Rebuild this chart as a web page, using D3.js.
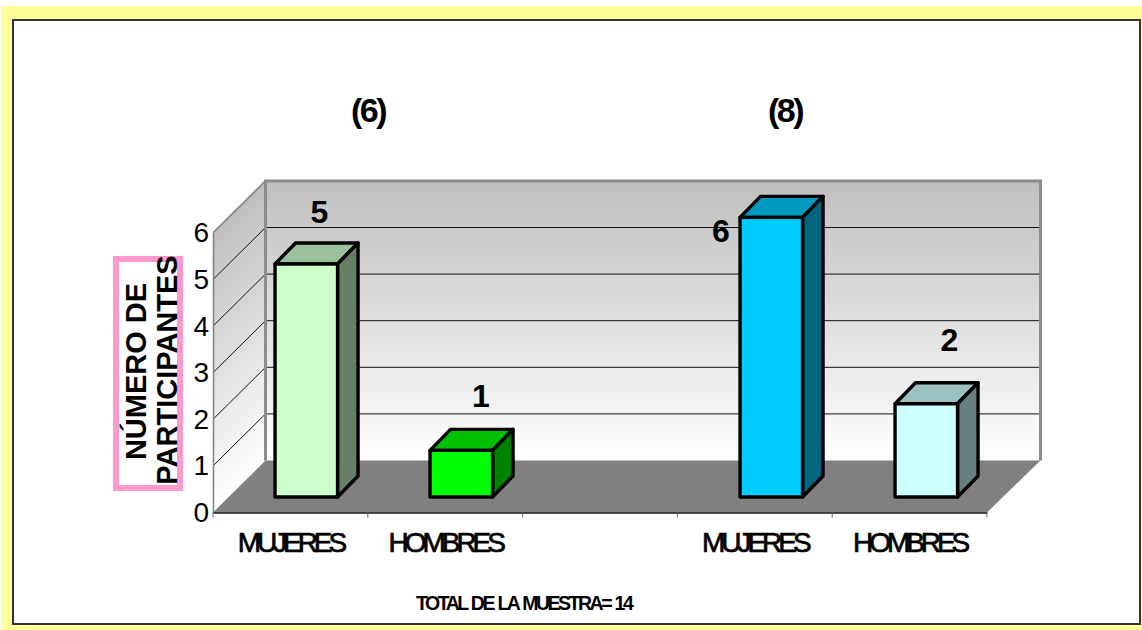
<!DOCTYPE html>
<html lang="es">
<head>
<meta charset="utf-8">
<title>Número de participantes</title>
<script src="https://cdn.jsdelivr.net/npm/d3@7/dist/d3.min.js"></script>
<style>
  html, body { margin: 0; padding: 0; background: #fff; }
  svg { display: block; }
  text { font-family: "Liberation Sans", Arial, sans-serif; fill: #000; }
</style>
</head>
<body>
<svg id="chart" width="1142" height="630"></svg>
<script>
// Chart values
const slots = ["a", "b", "gap", "c", "d"];
const categories = ["MUJERES", "HOMBRES", "", "MUJERES", "HOMBRES"];
const values = [5, 1, null, 6, 2];
const frontColors = ["#ccffcc", "#00ff00", null, "#00ccff", "#ccffff"];
const topColors = ["#9cc09c", "#00c000", null, "#0099c0", "#9cc0c0"];
const sideColors = ["#668066", "#008000", null, "#006680", "#668080"];
const valueTicks = [0, 1, 2, 3, 4, 5, 6];
const groupLabels = ["(6)", "(8)"];
const yTitleLines = ["NÚMERO DE", "PARTICIPANTES"];
const footerText = "TOTAL DE LA MUESTRA= 14";

const svg = d3.select("#chart");
const fontStack = '"Liberation Sans", Arial, sans-serif';

// Page frame
svg.append("rect").attr("x", 1).attr("y", 6).attr("width", 1141).attr("height", 624).attr("fill", "#ffff99");
svg.append("rect").attr("x", 13).attr("y", 20).attr("width", 1127).attr("height", 604)
  .attr("fill", "#fff").attr("stroke", "#333").attr("stroke-width", 2);

// Projection of the 3D box
const left = 213, right = 987, y0 = 512.5, unit = 46.6;
const depthX = 52.5, depthY = 52;
const barDepthX = 20.5, barDepthY = 21;
const inset = (depthY - barDepthY) / 2;

const y = d3.scaleLinear().domain([0, 6]).range([y0, y0 - 6 * unit]);
const slotScale = d3.scaleBand().domain(slots).range([left, right]);
const barScale = d3.scaleBand().domain(slots).range([left + 0.3, right + 1.3]);
const yBack = v => y(v) - depthY;

const defs = svg.append("defs");
const wallStops = [[0, "#bfbfbf"], [1, "#ffffff"]];
const backGrad = defs.append("linearGradient").attr("id", "wallBack")
  .attr("gradientUnits", "userSpaceOnUse")
  .attr("x1", 0).attr("x2", 0).attr("y1", yBack(6)).attr("y2", yBack(0));
const sideGrad = defs.append("linearGradient").attr("id", "wallSide")
  .attr("gradientUnits", "userSpaceOnUse")
  .attr("x1", left).attr("x2", left).attr("y1", y(6)).attr("y2", y(0))
  .attr("gradientTransform", `matrix(1,${-depthY / depthX},0,1,0,${left * depthY / depthX})`);
[backGrad, sideGrad].forEach(g => g.selectAll("stop").data(wallStops).join("stop")
  .attr("offset", d => d[0]).attr("stop-color", d => d[1]));

const poly = pts => pts.map(p => p.join(",")).join(" ");

// Walls
svg.append("polygon").attr("fill", "url(#wallBack)")
  .attr("points", poly([[left + depthX, yBack(6)], [right + depthX + 1, yBack(6)], [right + depthX + 1, yBack(0)], [left + depthX, yBack(0)]]));
svg.append("polygon").attr("fill", "url(#wallSide)")
  .attr("points", poly([[left, y(6)], [left + depthX, yBack(6)], [left + depthX, yBack(0)], [left, y(0)]]));

// Gridlines across the side and back walls
const gridValues = valueTicks.filter(v => v > 0 && v < 6);
svg.append("g").selectAll("path").data(gridValues).join("path")
  .attr("fill", "none").attr("stroke", "#111").attr("stroke-width", 1)
  .attr("d", v => `M${left},${y(v)}L${left + depthX},${yBack(v)}L${right + depthX + 1},${yBack(v)}`);

// Floor
svg.append("polygon").attr("fill", "#808080")
  .attr("points", poly([[left, y0], [right, y0], [right + depthX + 1, yBack(0)], [left + depthX, yBack(0)]]));

// Wall edges
const edge = "#8c8c8c";
svg.append("path").attr("fill", "none").attr("stroke", edge).attr("stroke-width", 3)
  .attr("d", `M${left + depthX},${yBack(0)}V${yBack(6)}H${right + depthX + 1}V${yBack(0)}`);
svg.append("path").attr("fill", "none").attr("stroke", edge).attr("stroke-width", 2)
  .attr("d", `M${left},${y(6)}L${left + depthX},${yBack(6)}`);

// Axes
const yAxis = d3.axisLeft(y).tickValues(valueTicks).tickFormat(d3.format("d")).tickSize(0).tickPadding(4);
const yG = svg.append("g").attr("transform", `translate(${left},0)`).call(yAxis);
yG.select(".domain").attr("stroke", "#808080").attr("stroke-width", 1.5);
yG.selectAll("text").attr("font-size", 28).style("font-family", fontStack);

const xAxis = d3.axisBottom(slotScale).tickSize(0).tickFormat((d, i) => categories[i]);
const xG = svg.append("g").attr("transform", `translate(0,${y0})`).call(xAxis);
xG.select(".domain").attr("stroke", "#111").attr("stroke-width", 1.5);
xG.selectAll("text")
  .attr("y", 39).attr("dy", 0).attr("dx", 0)
  .attr("font-size", 28).attr("letter-spacing", -4.05)
  .attr("stroke", "#000").attr("stroke-width", 0.7)
  .style("font-family", fontStack);

// Category separators under the floor edge
svg.append("g").selectAll("line")
  .data(slots.map(s => slotScale(s)).concat(right))
  .join("line")
  .attr("x1", d => d).attr("x2", d => d)
  .attr("y1", y0).attr("y2", y0 + 5)
  .attr("stroke", "#666").attr("stroke-width", 1);

// Bars: front, top and side faces
const barW = 62.5;
const barLeft = s => barScale(s) + barScale.bandwidth() / 2 - barW / 2 + inset;
const barData = slots.map((s, i) => ({ s, v: values[i], i })).filter(d => d.v !== null);
const bars = svg.append("g").selectAll("g").data(barData).join("g")
  .attr("stroke", "#000").attr("stroke-width", 3.4).attr("stroke-linejoin", "round");

bars.append("polygon").attr("fill", d => topColors[d.i]).attr("points", d => {
  const xl = barLeft(d.s), t = y(d.v) - inset;
  return poly([[xl, t], [xl + barW, t], [xl + barW + barDepthX, t - barDepthY], [xl + barDepthX, t - barDepthY]]);
});
bars.append("polygon").attr("fill", d => sideColors[d.i]).attr("points", d => {
  const xr = barLeft(d.s) + barW, t = y(d.v) - inset, b = y(0) - inset;
  return poly([[xr, t], [xr + barDepthX, t - barDepthY], [xr + barDepthX, b - barDepthY], [xr, b]]);
});
bars.append("rect").attr("fill", d => frontColors[d.i])
  .attr("x", d => barLeft(d.s)).attr("width", barW)
  .attr("y", d => y(d.v) - inset).attr("height", d => y(0) - y(d.v));

// Value labels, nudged per bar the way they were placed by hand
const labelOffsetX = [13, 19.5, null, -50.5, 23];
const labelOffsetY = [-41, -43, null, 25, -53];
svg.append("g").selectAll("text").data(barData).join("text")
  .attr("text-anchor", "middle").attr("font-size", 32).attr("font-weight", "bold")
  .attr("x", d => barLeft(d.s) + barW / 2 + labelOffsetX[d.i])
  .attr("y", d => y(d.v) - inset + labelOffsetY[d.i])
  .text(d => d.v);

// Group totals
svg.append("g").selectAll("text").data(groupLabels).join("text")
  .attr("text-anchor", "middle").attr("font-size", 34).attr("font-weight", "bold")
  .attr("letter-spacing", -2.6)
  .attr("x", (d, i) => [368, 785][i]).attr("y", 122)
  .text(d => d);

// Y-axis title in its pink box
svg.append("rect").attr("x", 116).attr("y", 259).attr("width", 64).attr("height", 229)
  .attr("fill", "#fff").attr("stroke", "#ff99cc").attr("stroke-width", 6);
svg.append("g").selectAll("text").data(yTitleLines).join("text")
  .attr("text-anchor", "middle").attr("font-size", 29).attr("font-weight", "bold")
  .attr("transform", (d, i) => `translate(${[145.5, 176.5][i]},${[371.5, 370][i]}) rotate(-90)`)
  .text(d => d);

// Footer note
svg.append("text").attr("x", 416).attr("y", 610)
  .attr("font-size", 19.5).attr("font-weight", "bold")
  .attr("letter-spacing", -2.5).attr("word-spacing", 1.6)
  .text(footerText);
</script>
</body>
</html>
